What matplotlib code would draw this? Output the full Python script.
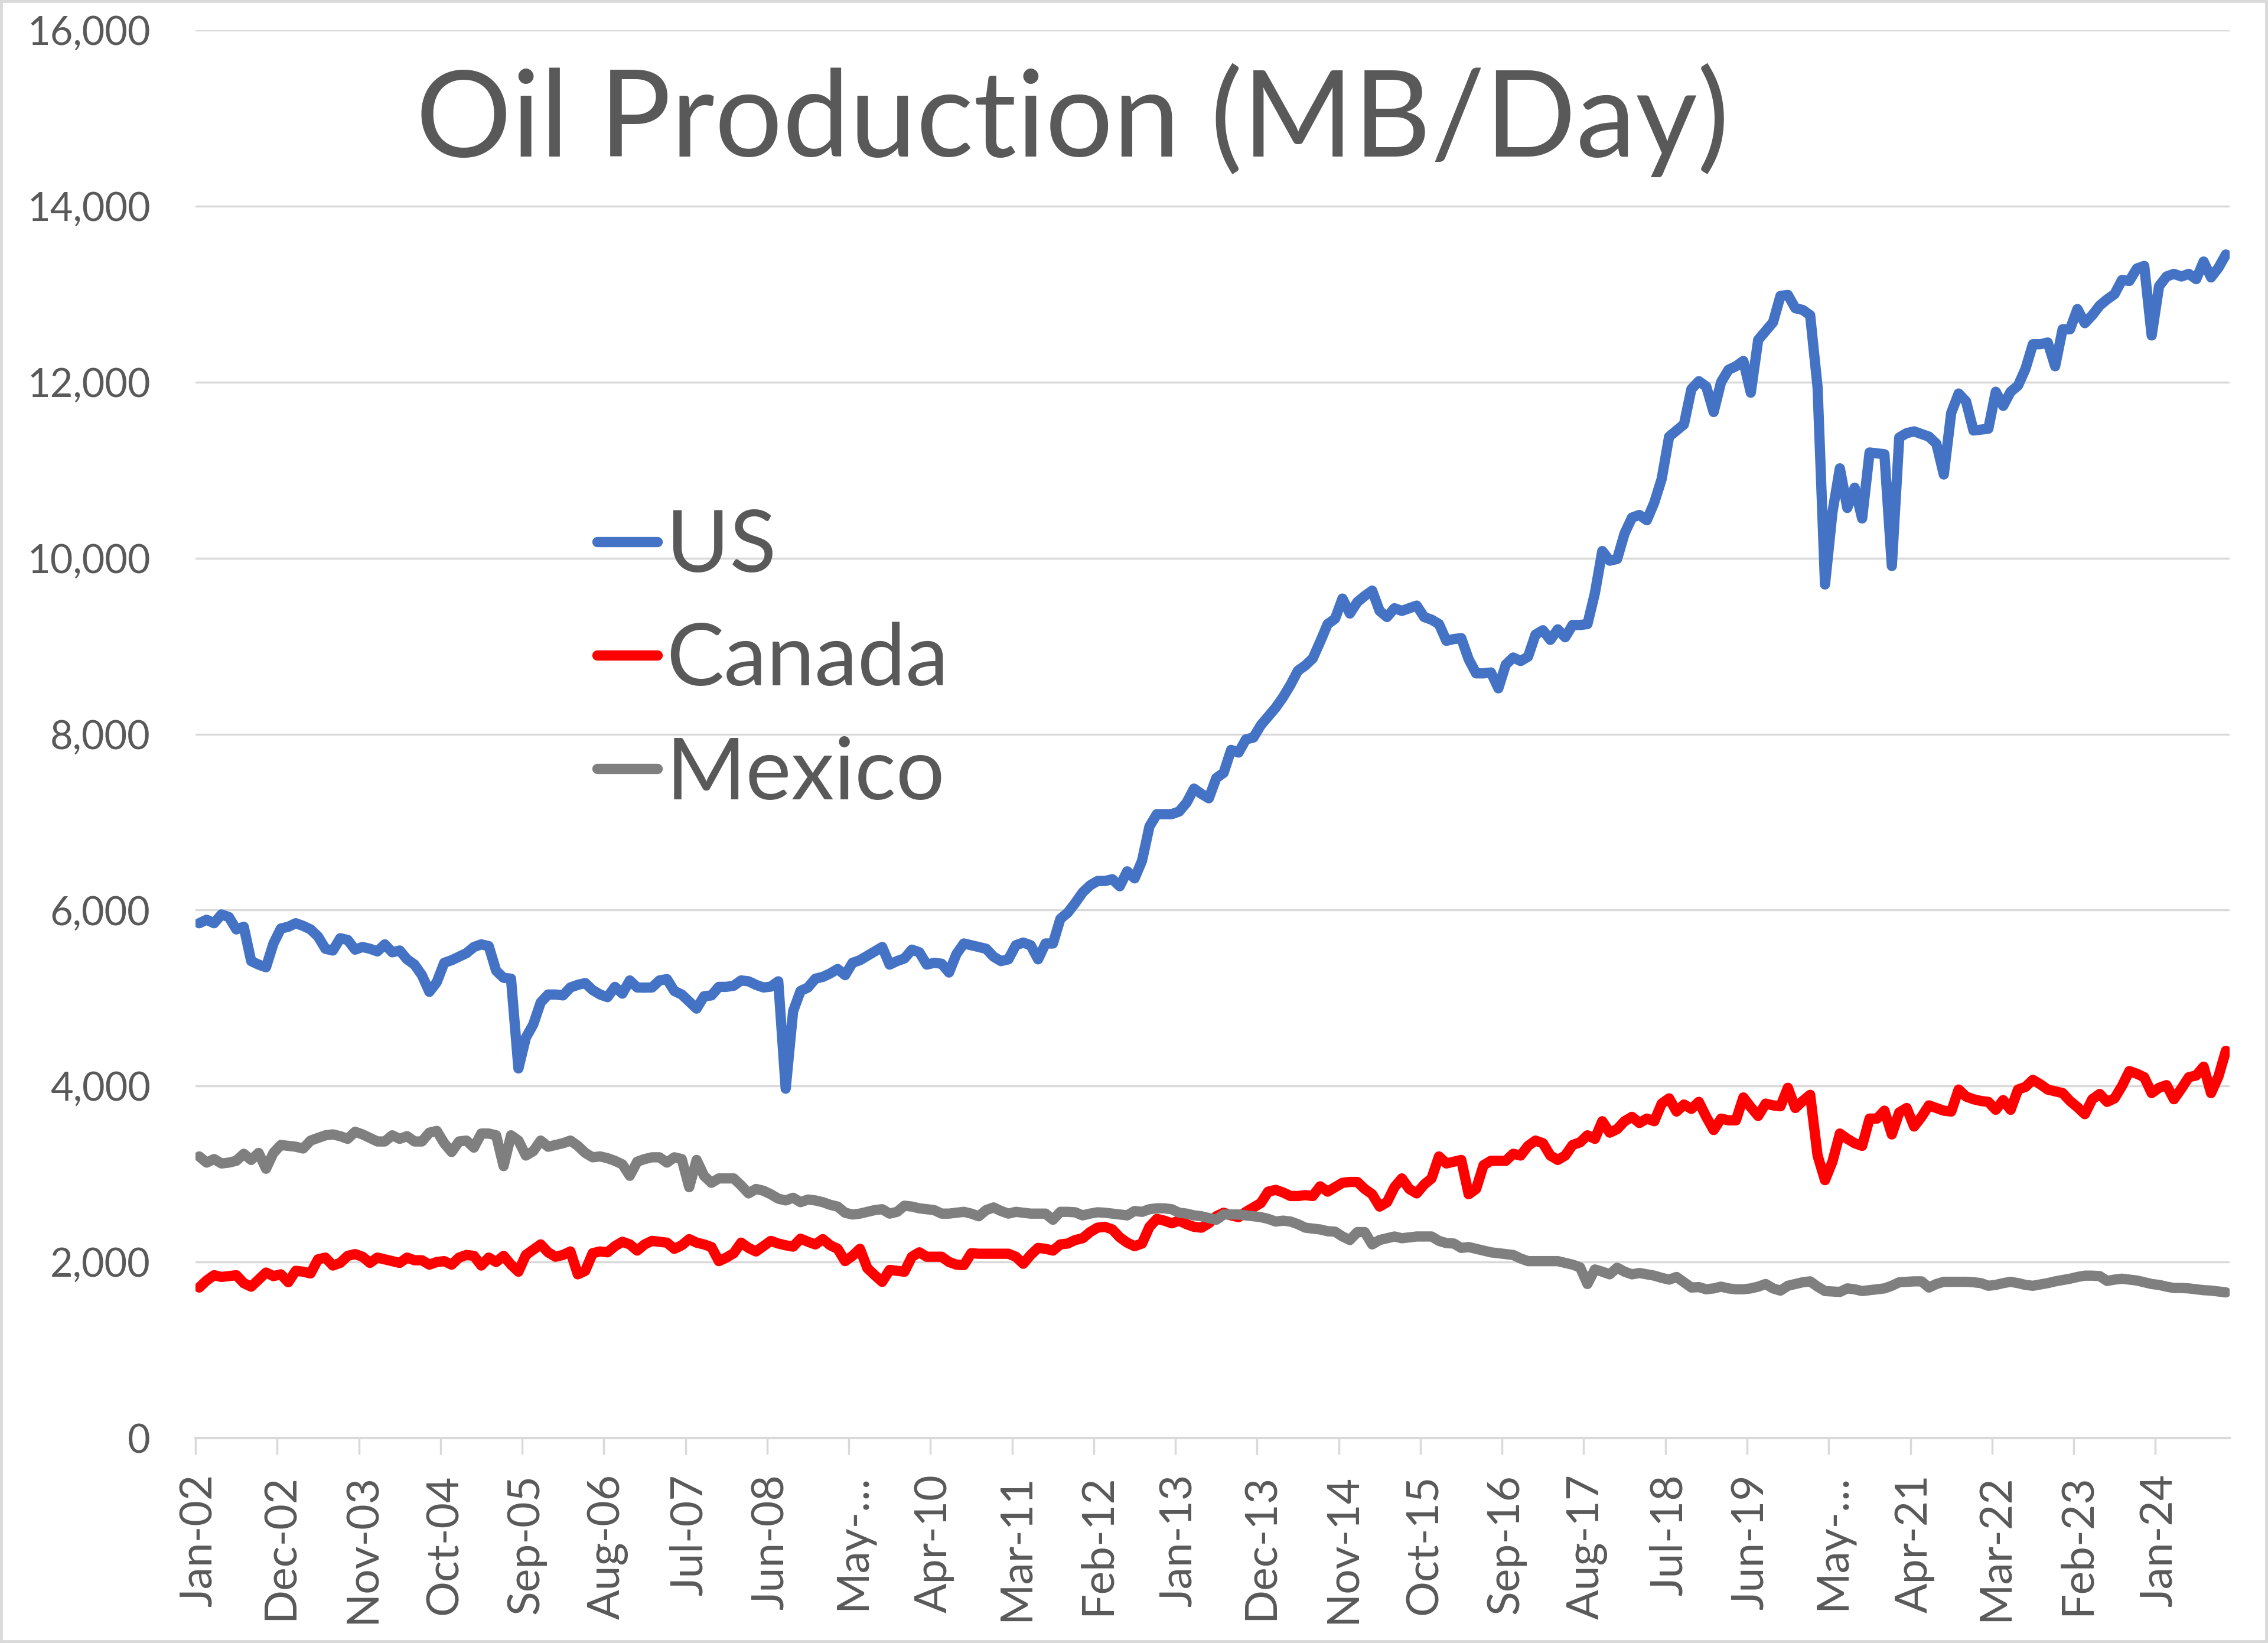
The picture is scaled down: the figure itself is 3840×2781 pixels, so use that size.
import matplotlib.pyplot as plt
from matplotlib.patches import Rectangle
from matplotlib.ticker import FuncFormatter

# monthly oil production, MB/Day, Jan-02 .. Oct-24 (one row per year)
us = [5850, 5890, 5850, 5950, 5920, 5780, 5810, 5420, 5380, 5350, 5620, 5790,
      5810, 5850, 5820, 5780, 5700, 5560, 5540, 5680, 5660, 5550, 5580, 5560,
      5530, 5610, 5520, 5540, 5440, 5380, 5260, 5070, 5180, 5400, 5430, 5470,
      5510, 5580, 5610, 5590, 5310, 5230, 5220, 4200, 4550, 4700, 4950, 5040,
      5040, 5030, 5120, 5150, 5170, 5090, 5040, 5010, 5127, 5050, 5200, 5120,
      5118, 5120, 5200, 5215, 5080, 5040, 4960, 4880, 5020, 5030, 5127, 5127,
      5140, 5200, 5190, 5150, 5120, 5130, 5190, 3970, 4850, 5080, 5120, 5220,
      5240, 5280, 5330, 5260, 5400, 5430, 5480, 5530, 5580, 5380, 5420, 5450,
      5550, 5520, 5380, 5400, 5390, 5290, 5500, 5620, 5600, 5580, 5560, 5470,
      5420, 5440, 5600, 5630, 5600, 5440, 5620, 5620, 5900, 5970, 6080, 6200,
      6280, 6330, 6330, 6350, 6270, 6440, 6360, 6560, 6950, 7090, 7090, 7090,
      7120, 7220, 7380, 7320, 7270, 7500, 7560, 7820, 7790, 7940, 7960, 8100,
      8200, 8300, 8420, 8560, 8720, 8780, 8860, 9050, 9250, 9310, 9540, 9370,
      9500, 9570, 9630, 9400, 9330, 9430, 9400, 9430, 9460, 9330, 9300, 9250,
      9060, 9080, 9090, 8850, 8690, 8690, 8700, 8520, 8790, 8870, 8830, 8880,
      9130, 9180, 9070, 9190, 9100, 9240, 9240, 9250, 9600, 10080, 9970, 9990,
      10280, 10460, 10490, 10430, 10630, 10900, 11380, 11450, 11520, 11920, 12010, 11950,
      11660, 12000, 12140, 12180, 12240, 11880, 12480, 12580, 12680, 12980, 12990, 12840,
      12820, 12760, 11940, 9700, 10520, 11020, 10570, 10800, 10450, 11200, 11190, 11180,
      9910, 11370, 11420, 11440, 11410, 11380, 11300, 10950, 11650, 11870, 11780, 11450,
      11460, 11470, 11890, 11730, 11890, 11960, 12150, 12430, 12430, 12450, 12180, 12600,
      12600, 12830, 12670, 12760, 12870, 12940, 13000, 13160, 13150, 13290, 13320, 12530,
      13090, 13200, 13230, 13200, 13230, 13170, 13370, 13190, 13300, 13450]

canada = [1710, 1790, 1850, 1830, 1840, 1850, 1760, 1720, 1800, 1880, 1840, 1860,
          1770, 1900, 1890, 1870, 2030, 2050, 1960, 1990, 2070, 2090, 2060, 1990,
          2050, 2030, 2010, 1990, 2050, 2020, 2020, 1970, 2000, 2010, 1970, 2050,
          2080, 2070, 1960, 2050, 2000, 2070, 1970, 1890, 2080, 2140, 2200, 2110,
          2060, 2080, 2120, 1860, 1900, 2100, 2120, 2110, 2180, 2230, 2200, 2130,
          2200, 2240, 2230, 2220, 2150, 2190, 2260, 2220, 2200, 2170, 2010, 2050,
          2100, 2220, 2160, 2120, 2180, 2240, 2210, 2190, 2175, 2265, 2230, 2200,
          2260, 2190, 2150, 2010, 2070, 2150, 1930, 1850, 1775, 1910, 1900, 1890,
          2060, 2110, 2060, 2060, 2060, 2000, 1970, 1965, 2100, 2094, 2094, 2094,
          2094, 2094, 2060, 1980, 2080, 2160, 2150, 2130, 2200, 2210, 2250, 2270,
          2340, 2390, 2400, 2370, 2280, 2220, 2180, 2210, 2400, 2490, 2470, 2440,
          2470, 2430, 2400, 2390, 2440, 2520, 2560, 2530, 2510, 2570, 2620, 2670,
          2800, 2820, 2790, 2750, 2750, 2760, 2750, 2860, 2800, 2850, 2900, 2910,
          2910, 2830, 2770, 2630, 2680, 2850, 2950, 2830, 2780, 2880, 2950, 3200,
          3120, 3140, 3160, 2770, 2830, 3100, 3150, 3150, 3150, 3230, 3210, 3320,
          3380, 3350, 3210, 3160, 3210, 3330, 3360, 3440, 3400, 3600, 3470, 3510,
          3600, 3650, 3580, 3630, 3600, 3800, 3860, 3710, 3790, 3740, 3820, 3650,
          3500, 3630, 3610, 3610, 3870, 3760, 3660, 3800, 3780, 3770, 3980, 3750,
          3830, 3900, 3210, 2930, 3140, 3460, 3400, 3350, 3320, 3630, 3630, 3720,
          3450, 3700, 3750, 3540, 3650, 3780, 3750, 3720, 3710, 3960, 3880, 3850,
          3830, 3820, 3730, 3840, 3730, 3960, 3990, 4070, 4020, 3960, 3940, 3920,
          3830, 3760, 3680, 3850, 3910, 3820, 3860, 4000, 4170, 4140, 4100, 3920,
          3980, 4010, 3850, 3970, 4100, 4120, 4220, 3920, 4110, 4400]

mexico = [3200, 3130, 3170, 3120, 3130, 3150, 3230, 3160, 3240, 3060, 3240, 3330,
          3320, 3310, 3290, 3380, 3410, 3440, 3450, 3430, 3400, 3480, 3450, 3410,
          3370, 3370, 3440, 3400, 3430, 3370, 3370, 3470, 3490, 3350, 3250, 3370,
          3380, 3300, 3460, 3460, 3440, 3090, 3440, 3380, 3210, 3260, 3380, 3310,
          3330, 3350, 3380, 3320, 3240, 3190, 3200, 3180, 3150, 3110, 2980, 3140,
          3170, 3190, 3190, 3130, 3190, 3170, 2850, 3160, 2980, 2900, 2950, 2950,
          2950, 2870, 2780, 2830, 2810, 2770, 2720, 2700, 2730, 2680, 2710, 2700,
          2680, 2650, 2630, 2560, 2540, 2550, 2570, 2590, 2600, 2550, 2570, 2640,
          2630, 2610, 2600, 2590, 2550, 2550, 2560, 2570, 2550, 2520, 2590, 2620,
          2580, 2550, 2570, 2560, 2550, 2550, 2550, 2480, 2570, 2570, 2565, 2530,
          2550, 2565, 2560, 2550, 2540, 2530, 2580, 2570, 2600, 2610, 2610, 2600,
          2560, 2550, 2530, 2520, 2500, 2480, 2540, 2540, 2540, 2530, 2520, 2510,
          2490, 2460, 2470, 2460, 2430, 2390, 2380, 2370, 2350, 2345, 2290, 2250,
          2340, 2340, 2200, 2250, 2270, 2290, 2270, 2280, 2290, 2290, 2290, 2240,
          2215, 2210, 2160, 2170, 2150, 2130, 2110, 2100, 2090, 2080, 2040, 2010,
          2010, 2010, 2010, 2010, 1990, 1970, 1940, 1750, 1915, 1890, 1860, 1935,
          1890, 1860, 1875, 1860, 1845, 1820, 1800, 1830, 1770, 1710, 1715, 1690,
          1700, 1720, 1700, 1690, 1690, 1700, 1720, 1750, 1700, 1675, 1730, 1750,
          1770, 1780, 1720, 1670, 1665, 1660, 1700, 1690, 1670, 1680, 1690, 1700,
          1730, 1770, 1775, 1780, 1780, 1710, 1750, 1775, 1775, 1775, 1775, 1770,
          1760, 1730, 1740, 1760, 1775, 1760, 1740, 1730, 1745, 1760, 1780, 1795,
          1810, 1830, 1845, 1845, 1840, 1785, 1800, 1810, 1800, 1790, 1770, 1750,
          1740, 1720, 1705, 1705, 1700, 1690, 1680, 1675, 1665, 1655]

# every 11th month gets a label, like the Excel axis
tick_pos = [0, 11, 22, 33, 44, 55, 66, 77, 88, 99, 110, 121, 132,
            143, 154, 165, 176, 187, 198, 209, 220, 231, 242, 253, 264]
tick_labels = ['Jan-02', 'Dec-02', 'Nov-03', 'Oct-04', 'Sep-05', 'Aug-06', 'Jul-07',
               'Jun-08', 'May-\u2026', 'Apr-10', 'Mar-11', 'Feb-12', 'Jan-13', 'Dec-13',
               'Nov-14', 'Oct-15', 'Sep-16', 'Aug-17', 'Jul-18', 'Jun-19', 'May-\u2026',
               'Apr-21', 'Mar-22', 'Feb-23', 'Jan-24']

plt.rcParams['font.family'] = ['Lato', 'DejaVu Sans']
txt_col = '#595959'
grid_col = '#D9D9D9'

fig = plt.figure(figsize=(38.4, 27.81), dpi=100)
ax = fig.add_axes([331/3840, 1-2434/2781, (3775-331)/3840, (2434-51)/2781])

months = range(len(us))
for vals, col, name in [(us, '#4472C4', 'US'), (canada, '#FF0000', 'Canada'),
                        (mexico, '#7F7F7F', 'Mexico')]:
    ax.plot(months, vals, color=col, lw=12.5, label=name,
            solid_capstyle='round', solid_joinstyle='round')

ax.set_xlim(-0.5, len(us) - 0.5)
ax.set_ylim(0, 16000)
ax.set_yticks(range(0, 16001, 2000))
ax.yaxis.set_major_formatter(FuncFormatter(lambda v, p: '{:,.0f}'.format(v)))
ax.yaxis.grid(True, color=grid_col, lw=2.5)
ax.set_axisbelow(True)
ax.tick_params(axis='y', length=0, pad=55, labelsize=48, labelcolor=txt_col)

ax.set_xticks(tick_pos)
ax.set_xticklabels(tick_labels, rotation=90)
ax.set_xticks([p - 0.5 for p in tick_pos], minor=True)
ax.tick_params(axis='x', which='major', length=0, pad=44, labelsize=54, labelcolor=txt_col)
ax.tick_params(axis='x', which='minor', length=20, width=2.5, color=grid_col, direction='out')

for s in ['left', 'top', 'right']:
    ax.spines[s].set_visible(False)
ax.spines['bottom'].set_color(grid_col)
ax.spines['bottom'].set_linewidth(3)

ax.legend(loc='center left', bbox_to_anchor=(1011/3840, 1-1119/2781),
          bbox_transform=fig.transFigure, frameon=False, fontsize=105,
          handlelength=0.7, handletextpad=0.1, labelspacing=0.41,
          borderpad=0, borderaxespad=0, labelcolor=txt_col)

fig.text(1816/3840, 1-265/2781, 'Oil Production (MB/Day)', ha='center', va='baseline',
         fontsize=146, color=txt_col)

fig.add_artist(Rectangle((0, 0), 1, 1, transform=fig.transFigure, fill=False,
                         edgecolor=grid_col, lw=7))

fig.savefig('out.png', dpi=100)
